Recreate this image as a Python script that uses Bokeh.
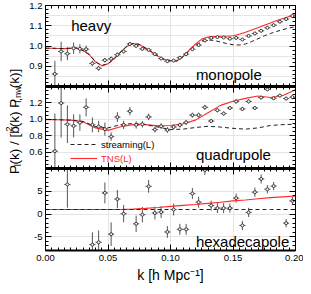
import numpy as np
import pandas as pd
from bokeh.plotting import figure
from bokeh.models import (Range1d, LinearAxis, FixedTicker, Whisker, ColumnDataSource,
                          Label, Legend, LegendItem, GridBox, NumeralTickFormatter)
from bokeh.embed import file_html
from bokeh.resources import INLINE

FONT = "Liberation Sans"

# ---------------- data ----------------
k_bins = [0.0075, 0.0125, 0.0175, 0.0225, 0.0275, 0.0325, 0.0375, 0.0425, 0.0475, 0.0525,
          0.0575, 0.0625, 0.0675, 0.0725, 0.0775, 0.0825, 0.0875, 0.0925, 0.0975, 0.1025,
          0.1075, 0.1125, 0.1175, 0.1225, 0.1275, 0.1325, 0.1375, 0.1425, 0.1475, 0.1525,
          0.1575, 0.1625, 0.1675, 0.1725, 0.1775, 0.1825, 0.1875, 0.1925, 0.1975]
k_halfbin = 0.0025

mono_val = [0.862, 0.973, 0.962, 0.989, 0.986, 0.984, 0.914, 0.890, 0.930, 0.937,
            0.957, 0.973, 1.010, 1.001, 0.986, 0.981, 0.960, 0.938, 0.925, 0.928,
            0.942, 0.960, 0.984, 1.005, 1.027, 1.040, 1.044, 1.042, 1.036, 1.040,
            1.032, 1.050, 1.062, 1.075, 1.090, 1.103, 1.120, 1.133, 1.148]
mono_err = [0.065, 0.048, 0.032, 0.028, 0.022, 0.018, 0.013, 0.012, 0.011, 0.010,
            0.010, 0.009, 0.009, 0.008, 0.008, 0.008, 0.007, 0.007, 0.007, 0.006,
            0.006, 0.006, 0.006, 0.006, 0.005, 0.005, 0.005, 0.005, 0.005, 0.005,
            0.005, 0.005, 0.005, 0.005, 0.005, 0.005, 0.005, 0.005, 0.005]

quad_val = [0.611, 1.198, 0.940, 0.920, 0.960, 1.146, 0.932, 0.912, 0.880, 0.789,
            1.027, 0.932, 1.099, 0.932, 0.940, 1.029, 0.874, 0.916, 0.870, 0.906,
            0.930, 0.962, 1.051, 1.051, 1.146, 0.979, 1.110, 1.070, 1.138, 1.218,
            1.126, 1.218, 1.138, 1.265, 1.365, 1.257, 1.289, 1.253, 1.270]
quad_err = [0.46, 0.42, 0.23, 0.14, 0.10, 0.11, 0.09, 0.07, 0.08, 0.05,
            0.06, 0.05, 0.05, 0.045, 0.04, 0.04, 0.035, 0.035, 0.035, 0.03,
            0.03, 0.03, 0.03, 0.03, 0.03, 0.025, 0.025, 0.025, 0.025, 0.025,
            0.025, 0.025, 0.02, 0.02, 0.02, 0.02, 0.02, 0.02, 0.02]

nan = float("nan")
hexa_val = [nan, nan, 6.5, nan, nan, nan, -6.71, -6.2, 4.64, -4.42,
            3.29, 0.08, nan, -2.14, -0.14, 6.08, 0.23, 0.44, -3.93, 1.0,
            -3.35, -3.35, 4.5, 2.6, 9.66, 1.86, 1.3, 1.3, 1.3, 3.5,
            -2.5, 0.36, 4.8, 7.7, 5.44, 6.14, nan, -2.0, 2.9]
hexa_err = [nan, nan, 5.1, nan, nan, nan, 2.7, 2.6, 2.3, 2.6,
            2.0, 1.9, nan, 1.8, 1.7, 1.4, 1.4, 1.3, 1.3, 1.3,
            1.2, 1.2, 1.2, 1.2, 1.1, 1.1, 1.1, 1.1, 1.0, 1.0,
            1.0, 1.0, 1.0, 1.0, 0.9, 0.9, 0.9, 0.9, 0.9]

k_model_fine = [0.000, 0.005, 0.010, 0.015, 0.020, 0.025, 0.030, 0.035, 0.040, 0.045,
                0.050, 0.055, 0.060, 0.065, 0.070, 0.075, 0.080, 0.085, 0.090, 0.095,
                0.100, 0.105, 0.110, 0.115, 0.120, 0.125, 0.130, 0.135, 0.140, 0.145,
                0.150, 0.155, 0.160, 0.165, 0.170, 0.175, 0.180, 0.185, 0.190, 0.195, 0.200]
mono_tns = [0.989, 0.989, 0.988, 0.987, 0.989, 0.990, 0.978, 0.958, 0.922, 0.903,
            0.912, 0.938, 0.970, 0.998, 1.012, 1.008, 0.990, 0.970, 0.950, 0.933,
            0.928, 0.926, 0.948, 0.980, 1.010, 1.034, 1.044, 1.047, 1.048, 1.048,
            1.051, 1.058, 1.068, 1.079, 1.090, 1.102, 1.114, 1.126, 1.136, 1.146, 1.156]
mono_stream = [0.989, 0.989, 0.988, 0.987, 0.989, 0.990, 0.978, 0.958, 0.922, 0.903,
               0.912, 0.938, 0.970, 0.998, 1.012, 1.008, 0.990, 0.970, 0.950, 0.933,
               0.928, 0.926, 0.948, 0.977, 1.003, 1.022, 1.030, 1.027, 1.020, 1.012,
               1.006, 1.005, 1.010, 1.022, 1.036, 1.050, 1.062, 1.072, 1.081, 1.089, 1.095]

k_model = [0.00, 0.01, 0.02, 0.03, 0.04, 0.05, 0.06, 0.07, 0.08, 0.09, 0.10,
           0.11, 0.12, 0.13, 0.14, 0.15, 0.16, 0.17, 0.18, 0.19, 0.20]
quad_tns = [0.995, 0.995, 0.990, 0.970, 0.895, 0.865, 0.910, 0.935, 0.935, 0.920, 0.925,
            0.945, 0.990, 1.080, 1.170, 1.220, 1.255, 1.285, 1.265, 1.290, 1.360]
quad_stream = [1.000, 0.995, 0.990, 0.975, 0.910, 0.895, 0.935, 0.950, 0.935, 0.905, 0.875,
               0.880, 0.900, 0.915, 0.905, 0.890, 0.880, 0.895, 0.925, 0.935, 0.940]
hexa_tns = [1.00, 1.00, 1.00, 1.00, 1.00, 1.00, 1.00, 1.08, 1.25, 1.45, 1.68,
            1.90, 2.10, 2.35, 2.60, 2.90, 3.10, 3.35, 3.60, 3.78, 3.95]
hexa_stream = [1.00, 1.00, 1.00, 1.00, 1.00, 1.00, 1.00, 1.00, 1.00, 1.00, 1.00,
               1.00, 1.00, 1.00, 1.00, 1.00, 1.00, 1.00, 1.00, 1.00, 1.00]

x_major = [0.0, 0.05, 0.10, 0.15, 0.20]
mono_ticks = [0.9, 1.0, 1.1, 1.2]
quad_ticks = [0.6, 0.8, 1.0, 1.2]      # 1.4 drawn as an edge label
hexa_ticks = [-5, 0, 5]                # 10 drawn as an edge label
quad_edge_tick = 1.4
hexa_edge_tick = 10

panel_names = ["heavy", "monopole", "quadrupole", "hexadecapole"]
legend_names = ["streaming(L)", "TNS(L)"]

# ---------------- styling helpers ----------------
PT_COLOR = "#3a3a3a"
BAR_COLOR = "#555555"
RED = "#ff2a2a"
TICK_FS = "9.5px"


def minor_list(lo, hi, step):
    return [float(v) for v in np.round(np.arange(lo, hi + step / 2, step), 6)]


def tick_axis(p, side, positions, length, lw=1, line=True):
    """Axis drawing only inward tick marks (no labels)."""
    ax = LinearAxis(ticker=FixedTicker(ticks=[], minor_ticks=positions))
    ax.major_tick_in = 0
    ax.major_tick_out = 0
    ax.minor_tick_in = length
    ax.minor_tick_out = 0
    ax.minor_tick_line_color = "black"
    ax.major_label_standoff = 0
    ax.axis_line_width = lw
    ax.axis_line_color = "black" if line else None
    p.add_layout(ax, side)
    return ax


def make_panel(height, ylo, yhi, ymajor, ymajor_all, yminor, yfmt, btop, bbottom,
               xlabels, top_lw, bottom_lw):
    p = figure(width=280, height=height, x_range=Range1d(0, 0.2), y_range=Range1d(ylo, yhi),
               toolbar_location=None, output_backend="svg",
               min_border_left=22, min_border_right=8, min_border_top=btop,
               min_border_bottom=bbottom, x_axis_location=None, y_axis_location=None)
    p.outline_line_color = "black"
    p.outline_line_width = 1
    p.border_fill_color = "white"
    x_minor = minor_list(0, 0.2, 0.005)

    left = LinearAxis(ticker=FixedTicker(ticks=ymajor, minor_ticks=yminor),
                      formatter=NumeralTickFormatter(format=yfmt))
    left.major_tick_in = 6
    left.major_tick_out = 0
    left.minor_tick_in = 3
    left.minor_tick_out = 0
    left.major_label_text_font = FONT
    left.major_label_text_font_size = TICK_FS
    left.major_label_text_color = "black"
    left.major_label_standoff = 3
    p.add_layout(left, "left")

    tick_axis(p, "right", ymajor_all, 6)
    tick_axis(p, "right", yminor, 3, line=False)
    tick_axis(p, "above", x_major, 6, lw=top_lw)
    tick_axis(p, "above", x_minor, 3, line=False)

    if xlabels:
        below = LinearAxis(ticker=FixedTicker(ticks=x_major, minor_ticks=x_minor),
                           formatter=NumeralTickFormatter(format="0.00"))
        below.major_tick_in = 6
        below.major_tick_out = 0
        below.minor_tick_in = 3
        below.minor_tick_out = 0
        below.axis_line_width = bottom_lw
        below.major_label_text_font = FONT
        below.major_label_text_font_size = TICK_FS
        below.major_label_text_color = "black"
        below.major_label_standoff = 4
        below.axis_label = "k [h Mpc\u207b\u00b9]"
        below.axis_label_text_font = FONT
        below.axis_label_text_font_size = "14px"
        below.axis_label_text_font_style = "normal"
        below.axis_label_text_color = "black"
        below.axis_label_standoff = 3
        p.add_layout(below, "below")
    else:
        tick_axis(p, "below", x_major, 6, lw=bottom_lw)
        tick_axis(p, "below", x_minor, 3, line=False)
    return p


def edge_label(p, text, yv):
    p.add_layout(Label(x=0, y=yv, text=text, x_offset=-3, y_offset=-1, text_align="right",
                       text_baseline="top", text_font=FONT, text_font_size=TICK_FS,
                       text_color="black"))


def add_points(p, vals, errs):
    df = pd.DataFrame({"k": k_bins, "v": vals, "e": errs}).dropna()
    df["lo"] = df["v"] - df["e"]
    df["hi"] = df["v"] + df["e"]
    df["klo"] = df["k"] - k_halfbin
    df["khi"] = df["k"] + k_halfbin
    src = ColumnDataSource(df)
    p.add_layout(Whisker(source=src, base="k", lower="lo", upper="hi", dimension="height",
                         line_color=BAR_COLOR, line_width=1, upper_head=None, lower_head=None))
    p.add_layout(Whisker(source=src, base="v", lower="klo", upper="khi", dimension="width",
                         line_color=BAR_COLOR, line_width=1, upper_head=None, lower_head=None))
    p.scatter("k", "v", source=src, marker="circle", size=3, fill_color="white",
              line_color=PT_COLOR, line_width=1)


def add_models(p, kx, tns, stream):
    rt = p.line(kx, tns, line_color=RED, line_width=1.1)
    rs = p.line(kx, stream, line_color="#222222", line_width=1, line_dash="4 3")
    return rs, rt


def panel_label(p, text, x, y):
    p.add_layout(Label(x=x, y=y, text=text, text_font=FONT, text_font_size="15px",
                       text_color="black", text_baseline="alphabetic"))


# ---------------- panels ----------------
H1, H2, H3 = 86, 82, 118

p1 = make_panel(H1, 0.8, 1.2, mono_ticks, [0.8] + mono_ticks, minor_list(0.8, 1.2, 0.02), "0.0",
                5, 0, False, 1, 3)
add_models(p1, k_model_fine, mono_tns, mono_stream)
add_points(p1, mono_val, mono_err)
panel_label(p1, panel_names[0], 0.0205, 1.1)
panel_label(p1, panel_names[1], 0.1203, 0.857)

p2 = make_panel(H2, 0.4, 1.4, quad_ticks, [0.4] + quad_ticks + [quad_edge_tick],
                minor_list(0.4, 1.4, 0.05), "0.0", 0, 0, False, 3, 3)
rs2, rt2 = add_models(p2, k_model, quad_tns, quad_stream)
add_points(p2, quad_val, quad_err)
panel_label(p2, panel_names[2], 0.1203, 0.567)
edge_label(p2, f"{quad_edge_tick:.1f}", quad_edge_tick)
for item, color, ypos in ((LegendItem(label=legend_names[0], renderers=[rs2]), "black", 17),
                          (LegendItem(label=legend_names[1], renderers=[rt2]), RED, 3)):
    lg = Legend(items=[item], location=(25, ypos), padding=0, margin=0, spacing=0,
                glyph_width=27, glyph_height=14, label_height=14, label_standoff=4,
                label_text_font=FONT, label_text_font_size="9.5px", label_text_color=color,
                border_line_color=None, background_fill_alpha=0)
    p2.add_layout(lg, "center")

p3 = make_panel(H3, -8, 10, hexa_ticks, hexa_ticks + [hexa_edge_tick], minor_list(-8, 10, 1), "0",
                0, 36, True, 3, 2)
add_models(p3, k_model, hexa_tns, hexa_stream)
add_points(p3, hexa_val, hexa_err)
panel_label(p3, panel_names[3], 0.1203, -5.92)
edge_label(p3, f"{hexa_edge_tick}", hexa_edge_tick)

# ---------------- y-axis title column ----------------
WL = 23
HT = H1 + H2 + H3
pl = figure(width=WL, height=HT, x_range=Range1d(0, WL), y_range=Range1d(0, HT),
            toolbar_location=None, output_backend="svg", min_border=0,
            x_axis_location=None, y_axis_location=None)
pl.outline_line_color = None
pl.grid.visible = False

W = {"P": .667, "(": .333, ")": .333, "k": .5, " ": .278, "/": .278, "[": .278, "]": .278,
     "b": .556, "l": .222, ",": .278, "n": .556, "w": .722, "2": .556}
MAIN, SMALL = 13.5, 9.5
segments = [("P", "main"), ("l", "sub"), ("(k) / [b", "main"), ("2", "sup"),
            ("(k) P", "main"), ("l,nw", "sub"), ("(k)]", "main")]
sizes = {"main": MAIN, "sub": SMALL, "sup": SMALL}
shift = {"main": 0, "sub": 3.5, "sup": -5.5}
total = sum(sum(W[c] for c in s) * sizes[t] for s, t in segments)
center_y = 149
base_x = 13.5
yy = center_y - total / 2
for s, t in segments:
    pl.add_layout(Label(x=base_x + shift[t], y=yy, text=s, angle=np.pi / 2,
                        text_font=FONT, text_font_size=f"{sizes[t]}px", text_color="black",
                        text_align="left", text_baseline="alphabetic"))
    yy += sum(W[c] for c in s) * sizes[t]

grid = GridBox(children=[(pl, 0, 0, 3, 1), (p1, 0, 1), (p2, 1, 1), (p3, 2, 1)], spacing=0)

open("out.html", "w").write(file_html(grid, INLINE))
